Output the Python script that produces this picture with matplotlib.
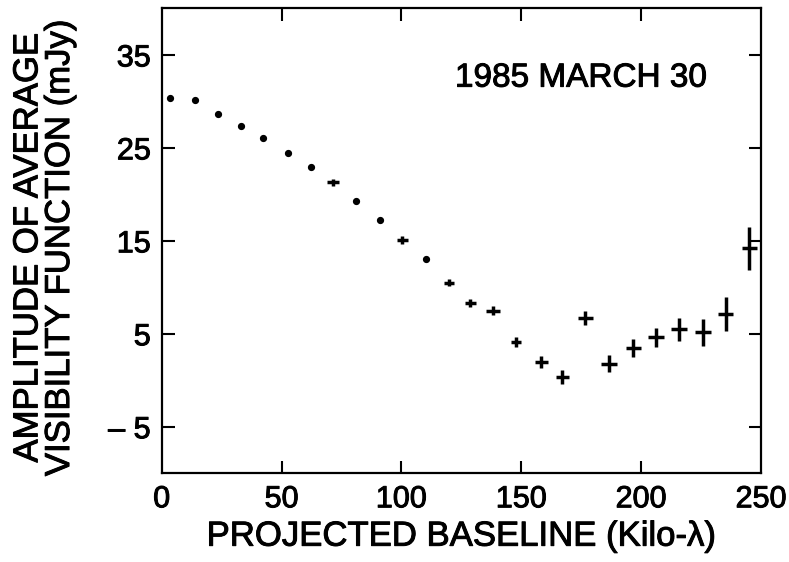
import matplotlib
matplotlib.use("Agg")
import matplotlib.pyplot as plt
import matplotlib.patheffects as pe
import numpy as np

baseline = [3.5, 13.9, 23.4, 33.0, 42.1, 52.7, 62.3, 71.5, 80.9, 90.9, 100.4, 110.1,
            119.9, 128.7, 138.3, 147.8, 158.3, 167.1, 176.7, 186.7, 196.7, 206.2,
            215.9, 225.9, 235.3, 245.1]
amplitude = [30.4, 30.1, 28.6, 27.3, 26.1, 24.4, 22.9, 21.3, 19.3, 17.2, 15.1, 13.0,
             10.5, 8.3, 7.5, 4.1, 2.0, 0.4, 6.7, 1.8, 3.45, 4.6, 5.5, 5.15, 7.1, 14.2]
amp_err = [0, 0, 0, 0, 0, 0, 0, 0.4, 0, 0, 0.4, 0,
           0.4, 0.4, 0.45, 0.5, 0.65, 0.75, 0.8, 0.9, 1.0, 1.05, 1.25, 1.45, 1.85, 2.3]
base_err = [0, 0, 0, 0, 0, 0, 0, 2.6, 0, 0, 2.3, 0,
            2.0, 2.2, 2.9, 2.1, 2.7, 2.7, 3.2, 3.3, 3.2, 3.2, 3.4, 3.4, 3.1, 3.2]

xticks = [0, 50, 100, 150, 200, 250]
yticks = [-5, 5, 15, 25, 35]

plt.rcParams['font.family'] = ['Liberation Sans', 'DejaVu Sans']
heavy = [pe.withStroke(linewidth=0.7, foreground='black')]

fig = plt.figure(figsize=(7.89, 5.62), dpi=100)
ax = fig.add_axes([0.205, 0.158, 0.7595, 0.827])

x = np.array(baseline)
y = np.array(amplitude)
ye = np.array(amp_err)
xe = np.array(base_err)
has_err = (ye > 0) | (xe > 0)

ax.plot(x[~has_err], y[~has_err], 'o', color='black', markersize=4.2)
ax.errorbar(x[has_err], y[has_err], yerr=ye[has_err], xerr=xe[has_err],
            fmt='none', ecolor='black', elinewidth=2.5, capsize=0)

ax.set_xlim(0, 250)
ax.set_ylim(-10, 40)
ax.set_xticks(xticks)
ax.set_xticklabels([str(t) for t in xticks])
ax.set_yticks(yticks)
ax.set_yticklabels(['\u2013 5' if t < 0 else str(t) for t in yticks])

ax.tick_params(axis='both', which='major', direction='in', length=9, width=1.5,
               top=True, right=True, labelsize=22)
ax.tick_params(axis='x', pad=8)
ax.tick_params(axis='y', pad=8)
for tk in (ax.xaxis.get_major_ticks()[0], ax.xaxis.get_major_ticks()[-1]):
    tk.tick1line.set_visible(False)
    tk.tick2line.set_visible(False)
for lab in ax.get_xticklabels() + ax.get_yticklabels():
    lab.set_path_effects(heavy)

for s in ax.spines.values():
    s.set_linewidth(1.6)

ax.set_xlabel('PROJECTED BASELINE (Kilo-\u03bb)', fontsize=25, path_effects=heavy)
ax.xaxis.set_label_coords(0.5, -0.10)
ax.set_ylabel('AMPLITUDE OF AVERAGE\nVISIBILITY FUNCTION (mJy)', fontsize=25,
              linespacing=0.95, path_effects=heavy)
ax.yaxis.set_label_coords(-0.143, 0.485)

ax.text(0.70, 0.85, '1985 MARCH 30', transform=ax.transAxes, fontsize=24,
        ha='center', va='center', path_effects=heavy)

fig.savefig('out.png', dpi=100)
